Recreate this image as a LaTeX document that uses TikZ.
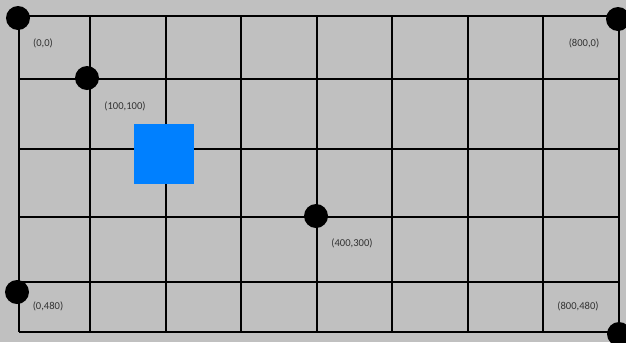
\documentclass[tikz,border=0pt]{standalone}
\usepackage{fontspec}
\setmainfont{Carlito}
\definecolor{bg}{RGB}{192,192,192}
\definecolor{sq}{RGB}{0,128,255}
\definecolor{lbl}{RGB}{50,50,50}
\begin{document}
\begin{tikzpicture}[x=1bp,y=-1bp,
  gridline/.style={line width=2bp,black},
  dot/.style={circle,fill=black,inner sep=0pt,minimum size=24bp},
  lab/.style={font=\fontsize{10.6}{12}\selectfont,text=lbl,inner sep=0pt}]
\fill[bg] (0,0) rectangle (626,342);
\useasboundingbox (0,0) rectangle (626,342);
% grid
\foreach \y in {16,79,149,217,282,332}
  \draw[gridline] (19,\y) -- (619,\y);
\foreach \x in {19,90,166,241,317,392,468,543,619}
  \draw[gridline] (\x,16) -- (\x,332);
% blue square
\node[fill=sq,minimum size=60bp,inner sep=0pt] (square) at (164,154) {};
% dots
\node[dot] (p00) at (18,18) {};
\node[dot] (p100) at (87,78) {};
\node[dot] (p400) at (316,216) {};
\node[dot] (p0480) at (17,292) {};
\node[dot] (p800) at (618,19) {};
\node[dot] (p800480) at (619,334) {};
% labels
\node[lab] (l00) at (43,43) {(0,0)};
\node[lab] (l100) at (125,106) {(100,100)};
\node[lab] (l400) at (352,243) {(400,300)};
\node[lab] (l0480) at (48,306) {(0,480)};
\node[lab] (l800) at (584,43) {(800,0)};
\node[lab] (l800480) at (578,306) {(800,480)};
\end{tikzpicture}
\end{document}
